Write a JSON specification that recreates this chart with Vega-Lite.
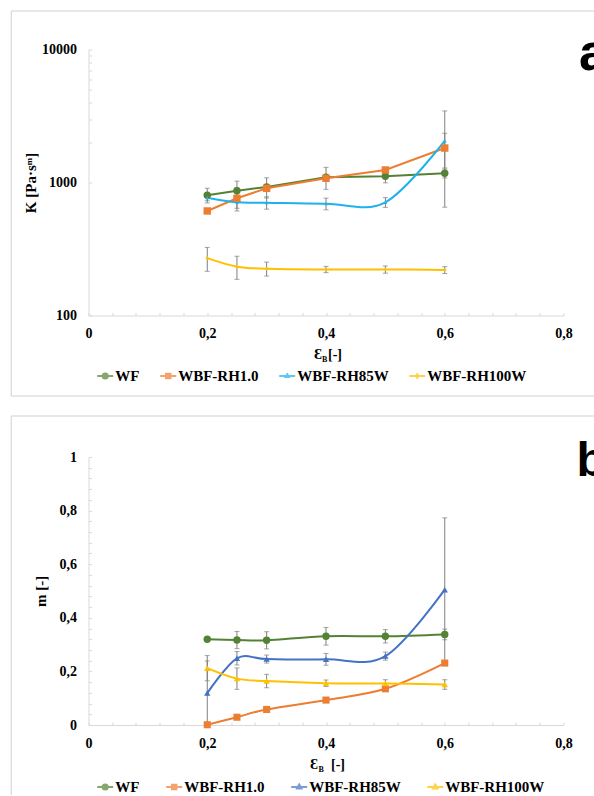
{
  "$schema": "https://vega.github.io/schema/vega-lite/v6.json",
  "background": "white",
  "padding": {"left": 10.5, "top": 9.5, "right": 0, "bottom": 0},
  "bounds": "flush",
  "spacing": 141.5,
  "datasets": {
    "kA": [
      {"series": "WF", "e": 0.2, "v": 802, "lo": 702, "hi": 905},
      {"series": "WF", "e": 0.25, "v": 867, "lo": 710, "hi": 1024},
      {"series": "WF", "e": 0.3, "v": 925, "lo": 765, "hi": 1085},
      {"series": "WF", "e": 0.4, "v": 1094, "lo": 888, "hi": 1300},
      {"series": "WF", "e": 0.5, "v": 1114, "lo": 994, "hi": 1234},
      {"series": "WF", "e": 0.6, "v": 1172, "lo": 1082, "hi": 1262},
      {"series": "WBF-RH1.0", "e": 0.2, "v": 611, "lo": 586, "hi": 636},
      {"series": "WBF-RH1.0", "e": 0.25, "v": 761, "lo": 611, "hi": 911},
      {"series": "WBF-RH1.0", "e": 0.3, "v": 904, "lo": 864, "hi": 944},
      {"series": "WBF-RH1.0", "e": 0.4, "v": 1076, "lo": 1036, "hi": 1116},
      {"series": "WBF-RH1.0", "e": 0.5, "v": 1242, "lo": 1192, "hi": 1292},
      {"series": "WBF-RH1.0", "e": 0.6, "v": 1816, "lo": 1286, "hi": 2346},
      {"series": "WBF-RH85W", "e": 0.2, "v": 769, "lo": 729, "hi": 809},
      {"series": "WBF-RH85W", "e": 0.25, "v": 710, "lo": 640, "hi": 780},
      {"series": "WBF-RH85W", "e": 0.3, "v": 705, "lo": 630, "hi": 780},
      {"series": "WBF-RH85W", "e": 0.4, "v": 693, "lo": 623, "hi": 763},
      {"series": "WBF-RH85W", "e": 0.5, "v": 710, "lo": 650, "hi": 770},
      {"series": "WBF-RH85W", "e": 0.6, "v": 2052, "lo": 652, "hi": 3452},
      {"series": "WBF-RH100W", "e": 0.2, "v": 270, "lo": 215, "hi": 325},
      {"series": "WBF-RH100W", "e": 0.25, "v": 233, "lo": 187, "hi": 279},
      {"series": "WBF-RH100W", "e": 0.3, "v": 225, "lo": 198, "hi": 252},
      {"series": "WBF-RH100W", "e": 0.4, "v": 222, "lo": 210, "hi": 234},
      {"series": "WBF-RH100W", "e": 0.5, "v": 222, "lo": 208, "hi": 236},
      {"series": "WBF-RH100W", "e": 0.6, "v": 220, "lo": 207, "hi": 233}
    ],
    "mB": [
      {"series": "WF", "e": 0.2, "v": 0.32, "lo": 0.314, "hi": 0.326},
      {"series": "WF", "e": 0.25, "v": 0.317, "lo": 0.285, "hi": 0.349},
      {"series": "WF", "e": 0.3, "v": 0.316, "lo": 0.284, "hi": 0.348},
      {"series": "WF", "e": 0.4, "v": 0.331, "lo": 0.298, "hi": 0.364},
      {"series": "WF", "e": 0.5, "v": 0.331, "lo": 0.306, "hi": 0.356},
      {"series": "WF", "e": 0.6, "v": 0.338, "lo": 0.318, "hi": 0.358},
      {"series": "WBF-RH1.0", "e": 0.2, "v": 0.001, "lo": 0, "hi": 0.003},
      {"series": "WBF-RH1.0", "e": 0.25, "v": 0.029, "lo": 0.026, "hi": 0.032},
      {"series": "WBF-RH1.0", "e": 0.3, "v": 0.058, "lo": 0.054, "hi": 0.062},
      {"series": "WBF-RH1.0", "e": 0.4, "v": 0.093, "lo": 0.089, "hi": 0.097},
      {"series": "WBF-RH1.0", "e": 0.5, "v": 0.135, "lo": 0.13, "hi": 0.14},
      {"series": "WBF-RH1.0", "e": 0.6, "v": 0.231, "lo": 0.223, "hi": 0.239},
      {"series": "WBF-RH85W", "e": 0.2, "v": 0.119, "lo": 0, "hi": 0.239},
      {"series": "WBF-RH85W", "e": 0.25, "v": 0.249, "lo": 0.224, "hi": 0.274},
      {"series": "WBF-RH85W", "e": 0.3, "v": 0.246, "lo": 0.231, "hi": 0.261},
      {"series": "WBF-RH85W", "e": 0.4, "v": 0.245, "lo": 0.223, "hi": 0.267},
      {"series": "WBF-RH85W", "e": 0.5, "v": 0.257, "lo": 0.242, "hi": 0.272},
      {"series": "WBF-RH85W", "e": 0.6, "v": 0.505, "lo": 0.237, "hi": 0.773},
      {"series": "WBF-RH100W", "e": 0.2, "v": 0.212, "lo": 0.165, "hi": 0.259},
      {"series": "WBF-RH100W", "e": 0.25, "v": 0.173, "lo": 0.133, "hi": 0.213},
      {"series": "WBF-RH100W", "e": 0.3, "v": 0.164, "lo": 0.139, "hi": 0.189},
      {"series": "WBF-RH100W", "e": 0.4, "v": 0.156, "lo": 0.144, "hi": 0.168},
      {"series": "WBF-RH100W", "e": 0.5, "v": 0.155, "lo": 0.141, "hi": 0.169},
      {"series": "WBF-RH100W", "e": 0.6, "v": 0.151, "lo": 0.133, "hi": 0.169}
    ]
  },
  "vconcat": [
    {
      "width": 475,
      "height": 266,
      "data": {"name": "kA"},
      "layer": [
        {
          "data": {"values": [{}]},
          "mark": {"type": "rule", "color": "#d0d0d0", "strokeWidth": 1},
          "encoding": {"x": {"datum": -0.1302}, "x2": {"datum": 0.852}, "y": {"datum": 19478}}
        },
        {
          "data": {"values": [{}]},
          "mark": {"type": "rule", "color": "#d0d0d0", "strokeWidth": 1},
          "encoding": {"x": {"datum": -0.1302}, "x2": {"datum": 0.852}, "y": {"datum": 24.8}}
        },
        {
          "data": {"values": [{}]},
          "mark": {"type": "rule", "color": "#d0d0d0", "strokeWidth": 1},
          "encoding": {"x": {"datum": -0.1302}, "y": {"datum": 19478}, "y2": {"datum": 24.8}}
        },
        {
          "mark": {"type": "rule", "color": "#7f7f7f", "strokeWidth": 1},
          "encoding": {
            "x": {
              "field": "e", "type": "quantitative",
              "scale": {"domain": [0, 0.8], "nice": false, "zero": false},
              "axis": {
                "title": null,
                "values": [0, 0.04, 0.08, 0.12, 0.16, 0.2, 0.24, 0.28, 0.32, 0.36, 0.4, 0.44, 0.48, 0.52, 0.56, 0.6, 0.64, 0.68, 0.72, 0.76, 0.8],
                "tickCount": 40,
                "labelExpr": "abs(datum.value*5 - round(datum.value*5)) < 0.000001 ? replace(format(datum.value, '~g'), '.', ',') : ''",
                "labelPadding": 14
              }
            },
            "y": {
              "field": "lo", "type": "quantitative",
              "scale": {"type": "log", "domain": [100, 10000], "nice": false},
              "axis": {
                "title": "K [Pa·sᵐ]",
                "values": [100, 1000, 2000, 3000, 4000, 5000, 6000, 7000, 8000, 9000, 10000],
                "tickCount": 40,
                "labelExpr": "datum.value == 100 || datum.value == 1000 || datum.value == 10000 ? '' + datum.value : ''",
                "labelPadding": 15,
                "titlePadding": 3
              }
            },
            "y2": {"field": "hi"}
          }
        },
        {
          "mark": {"type": "tick", "orient": "horizontal", "size": 5, "thickness": 1, "color": "#7f7f7f"},
          "encoding": {"x": {"field": "e", "type": "quantitative"}, "y": {"field": "lo", "type": "quantitative"}}
        },
        {
          "mark": {"type": "tick", "orient": "horizontal", "size": 5, "thickness": 1, "color": "#7f7f7f"},
          "encoding": {"x": {"field": "e", "type": "quantitative"}, "y": {"field": "hi", "type": "quantitative"}}
        },
        {
          "transform": [{"filter": "datum.series === 'WF' || datum.series === 'WBF-RH1.0'"}],
          "mark": {"type": "line", "strokeWidth": 2},
          "encoding": {
            "x": {"field": "e", "type": "quantitative"},
            "y": {"field": "v", "type": "quantitative"},
            "color": {"field": "series", "type": "nominal"}
          }
        },
        {
          "transform": [{"filter": "datum.series === 'WBF-RH85W' || datum.series === 'WBF-RH100W'"}],
          "mark": {"type": "line", "strokeWidth": 2, "interpolate": "cardinal"},
          "encoding": {
            "x": {"field": "e", "type": "quantitative"},
            "y": {"field": "v", "type": "quantitative"},
            "color": {"field": "series", "type": "nominal"}
          }
        },
        {
          "mark": {"type": "point", "filled": true, "size": 0},
          "encoding": {
            "x": {"field": "e", "type": "quantitative"},
            "y": {"field": "v", "type": "quantitative"},
            "color": {
              "field": "series", "type": "nominal",
              "scale": {"domain": ["WF", "WBF-RH1.0", "WBF-RH85W", "WBF-RH100W"], "range": ["#548235", "#ed7d31", "#1fb1ec", "#ffc000"]},
              "legend": {
                "orient": "none", "legendX": 7.7, "legendY": 317.5, "direction": "horizontal", "title": null,
                "columnPadding": 16, "labelOffset": 1, "symbolSize": 256, "symbolStrokeWidth": 2,
                "labelFont": "Liberation Serif", "labelFontWeight": "bold", "labelFontSize": 15, "labelColor": "black"
              }
            },
            "shape": {
              "field": "series", "type": "nominal",
              "scale": {
                "domain": ["WF", "WBF-RH1.0", "WBF-RH85W", "WBF-RH100W"],
                "range": [
                  "M-1,0H1M0.32,0A0.32,0.32 0 1,1 -0.32,0A0.32,0.32 0 1,1 0.32,0Z",
                  "M-1,0H1M-0.28,-0.28H0.28V0.28H-0.28Z",
                  "M-1,0H1M0,-0.22L0.2,0.14H-0.2Z",
                  "M-1,0H1M0,-0.22L0.16,0L0,0.22L-0.16,0Z"
                ]
              }
            }
          }
        },
        {
          "transform": [{"filter": "datum.series === 'WF'"}],
          "mark": {"type": "circle", "size": 55, "opacity": 1},
          "encoding": {
            "x": {"field": "e", "type": "quantitative"},
            "y": {"field": "v", "type": "quantitative"},
            "color": {"field": "series", "type": "nominal"}
          }
        },
        {
          "transform": [{"filter": "datum.series === 'WBF-RH1.0'"}],
          "mark": {"type": "square", "size": 55, "opacity": 1},
          "encoding": {
            "x": {"field": "e", "type": "quantitative"},
            "y": {"field": "v", "type": "quantitative"},
            "color": {"field": "series", "type": "nominal"}
          }
        },
        {
          "transform": [{"filter": "datum.series === 'WBF-RH85W'"}],
          "mark": {"type": "point", "shape": "triangle-up", "size": 14, "filled": true, "opacity": 1},
          "encoding": {
            "x": {"field": "e", "type": "quantitative"},
            "y": {"field": "v", "type": "quantitative"},
            "color": {"field": "series", "type": "nominal"}
          }
        },
        {
          "transform": [{"filter": "datum.series === 'WBF-RH100W'"}],
          "mark": {"type": "point", "shape": "diamond", "size": 14, "filled": true, "opacity": 1},
          "encoding": {
            "x": {"field": "e", "type": "quantitative"},
            "y": {"field": "v", "type": "quantitative"},
            "color": {"field": "series", "type": "nominal"}
          }
        },
        {
          "data": {"values": [{}]},
          "mark": {"type": "text", "text": "Ɛ", "align": "right", "baseline": "alphabetic", "dx": -4, "dy": 43, "fontSize": 15, "fontWeight": "bold", "font": "Liberation Serif", "color": "black"},
          "encoding": {"x": {"datum": 0.4}, "y": {"datum": 100}}
        },
        {
          "data": {"values": [{}]},
          "mark": {"type": "text", "text": "B", "align": "left", "baseline": "alphabetic", "dx": -4, "dy": 46, "fontSize": 8, "fontWeight": "bold", "font": "Liberation Serif", "color": "black"},
          "encoding": {"x": {"datum": 0.4}, "y": {"datum": 100}}
        },
        {
          "data": {"values": [{}]},
          "mark": {"type": "text", "text": "[-]", "align": "left", "baseline": "alphabetic", "dx": 2, "dy": 43, "fontSize": 14, "fontWeight": "bold", "font": "Liberation Serif", "color": "black"},
          "encoding": {"x": {"datum": 0.4}, "y": {"datum": 100}}
        },
        {
          "data": {"values": [{}]},
          "mark": {"type": "text", "text": "a", "align": "left", "baseline": "alphabetic", "dy": 20, "fontSize": 52, "fontWeight": "bold", "font": "Liberation Sans", "color": "black"},
          "encoding": {"x": {"datum": 0.826}, "y": {"datum": 10000}}
        }
      ]
    },
    {
      "width": 475,
      "height": 268,
      "data": {"name": "mB"},
      "layer": [
        {
          "data": {"values": [{}]},
          "mark": {"type": "rule", "color": "#d0d0d0", "strokeWidth": 1},
          "encoding": {"x": {"datum": -0.1302}, "x2": {"datum": 0.852}, "y": {"datum": 1.153}}
        },
        {
          "data": {"values": [{}]},
          "mark": {"type": "rule", "color": "#d0d0d0", "strokeWidth": 1},
          "encoding": {"x": {"datum": -0.1302}, "y": {"datum": 1.153}, "y2": {"datum": -0.262}}
        },
        {
          "mark": {"type": "rule", "color": "#7f7f7f", "strokeWidth": 1},
          "encoding": {
            "x": {
              "field": "e", "type": "quantitative",
              "scale": {"domain": [0, 0.8], "nice": false, "zero": false},
              "axis": {
                "title": null,
                "values": [0, 0.04, 0.08, 0.12, 0.16, 0.2, 0.24, 0.28, 0.32, 0.36, 0.4, 0.44, 0.48, 0.52, 0.56, 0.6, 0.64, 0.68, 0.72, 0.76, 0.8],
                "tickCount": 40,
                "labelExpr": "abs(datum.value*5 - round(datum.value*5)) < 0.000001 ? replace(format(datum.value, '~g'), '.', ',') : ''",
                "labelPadding": 14
              }
            },
            "y": {
              "field": "lo", "type": "quantitative",
              "scale": {"domain": [0, 1], "nice": false},
              "axis": {
                "title": "m [-]",
                "values": [0, 0.04, 0.08, 0.12, 0.16, 0.2, 0.24, 0.28, 0.32, 0.36, 0.4, 0.44, 0.48, 0.52, 0.56, 0.6, 0.64, 0.68, 0.72, 0.76, 0.8, 0.84, 0.88, 0.92, 0.96, 1],
                "tickCount": 40,
                "labelExpr": "abs(datum.value*5 - round(datum.value*5)) < 0.000001 ? replace(format(datum.value, '~g'), '.', ',') : ''",
                "labelPadding": 15,
                "titlePadding": 11
              }
            },
            "y2": {"field": "hi"}
          }
        },
        {
          "mark": {"type": "tick", "orient": "horizontal", "size": 5, "thickness": 1, "color": "#7f7f7f"},
          "encoding": {"x": {"field": "e", "type": "quantitative"}, "y": {"field": "lo", "type": "quantitative"}}
        },
        {
          "mark": {"type": "tick", "orient": "horizontal", "size": 5, "thickness": 1, "color": "#7f7f7f"},
          "encoding": {"x": {"field": "e", "type": "quantitative"}, "y": {"field": "hi", "type": "quantitative"}}
        },
        {
          "mark": {"type": "line", "strokeWidth": 2, "interpolate": "cardinal"},
          "encoding": {
            "x": {"field": "e", "type": "quantitative"},
            "y": {"field": "v", "type": "quantitative"},
            "color": {"field": "series", "type": "nominal"}
          }
        },
        {
          "mark": {"type": "point", "filled": true, "size": 0},
          "encoding": {
            "x": {"field": "e", "type": "quantitative"},
            "y": {"field": "v", "type": "quantitative"},
            "color": {
              "field": "series", "type": "nominal",
              "scale": {"domain": ["WF", "WBF-RH1.0", "WBF-RH85W", "WBF-RH100W"], "range": ["#548235", "#ed7d31", "#4472c4", "#ffc000"]},
              "legend": {
                "orient": "none", "legendX": 7.7, "legendY": 321, "direction": "horizontal", "title": null,
                "columnPadding": 22, "labelOffset": 1, "symbolSize": 256, "symbolStrokeWidth": 2,
                "labelFont": "Liberation Serif", "labelFontWeight": "bold", "labelFontSize": 15, "labelColor": "black"
              }
            },
            "shape": {
              "field": "series", "type": "nominal",
              "scale": {
                "domain": ["WF", "WBF-RH1.0", "WBF-RH85W", "WBF-RH100W"],
                "range": [
                  "M-1,0H1M0.32,0A0.32,0.32 0 1,1 -0.32,0A0.32,0.32 0 1,1 0.32,0Z",
                  "M-1,0H1M-0.28,-0.28H0.28V0.28H-0.28Z",
                  "M-1,0H1M0,-0.3L0.28,0.2H-0.28Z",
                  "M-1,0H1M0,-0.3L0.28,0.2H-0.28Z"
                ]
              }
            }
          }
        },
        {
          "transform": [{"filter": "datum.series === 'WF'"}],
          "mark": {"type": "circle", "size": 55, "opacity": 1},
          "encoding": {
            "x": {"field": "e", "type": "quantitative"},
            "y": {"field": "v", "type": "quantitative"},
            "color": {"field": "series", "type": "nominal"}
          }
        },
        {
          "transform": [{"filter": "datum.series === 'WBF-RH1.0'"}],
          "mark": {"type": "square", "size": 50, "opacity": 1},
          "encoding": {
            "x": {"field": "e", "type": "quantitative"},
            "y": {"field": "v", "type": "quantitative"},
            "color": {"field": "series", "type": "nominal"}
          }
        },
        {
          "transform": [{"filter": "datum.series === 'WBF-RH85W' || datum.series === 'WBF-RH100W'"}],
          "mark": {"type": "point", "shape": "triangle-up", "size": 40, "filled": true, "opacity": 1},
          "encoding": {
            "x": {"field": "e", "type": "quantitative"},
            "y": {"field": "v", "type": "quantitative"},
            "color": {"field": "series", "type": "nominal"}
          }
        },
        {
          "data": {"values": [{}]},
          "mark": {"type": "text", "text": "Ɛ", "align": "right", "baseline": "alphabetic", "dx": -8, "dy": 44, "fontSize": 15, "fontWeight": "bold", "font": "Liberation Serif", "color": "black"},
          "encoding": {"x": {"datum": 0.4}, "y": {"datum": 0}}
        },
        {
          "data": {"values": [{}]},
          "mark": {"type": "text", "text": "B", "align": "left", "baseline": "alphabetic", "dx": -7.5, "dy": 47, "fontSize": 8, "fontWeight": "bold", "font": "Liberation Serif", "color": "black"},
          "encoding": {"x": {"datum": 0.4}, "y": {"datum": 0}}
        },
        {
          "data": {"values": [{}]},
          "mark": {"type": "text", "text": "[-]", "align": "left", "baseline": "alphabetic", "dx": 5, "dy": 44, "fontSize": 14, "fontWeight": "bold", "font": "Liberation Serif", "color": "black"},
          "encoding": {"x": {"datum": 0.4}, "y": {"datum": 0}}
        },
        {
          "data": {"values": [{}]},
          "mark": {"type": "text", "text": "b", "align": "left", "baseline": "alphabetic", "dy": 19, "fontSize": 48, "fontWeight": "bold", "font": "Liberation Sans", "color": "black"},
          "encoding": {"x": {"datum": 0.822}, "y": {"datum": 1}}
        }
      ]
    }
  ],
  "resolve": {
    "scale": {"color": "independent", "shape": "independent"},
    "legend": {"color": "independent", "shape": "independent"}
  },
  "config": {
    "view": {"stroke": null},
    "axis": {
      "grid": false,
      "domainColor": "#d9d9d9",
      "tickColor": "#d9d9d9",
      "tickSize": -3,
      "labelFont": "Liberation Serif",
      "labelFontSize": 14,
      "labelFontWeight": "bold",
      "labelColor": "black",
      "labelFlush": false,
      "labelOverlap": false,
      "titleFont": "Liberation Serif",
      "titleFontSize": 15,
      "titleFontWeight": "bold",
      "titleColor": "black"
    }
  }
}
